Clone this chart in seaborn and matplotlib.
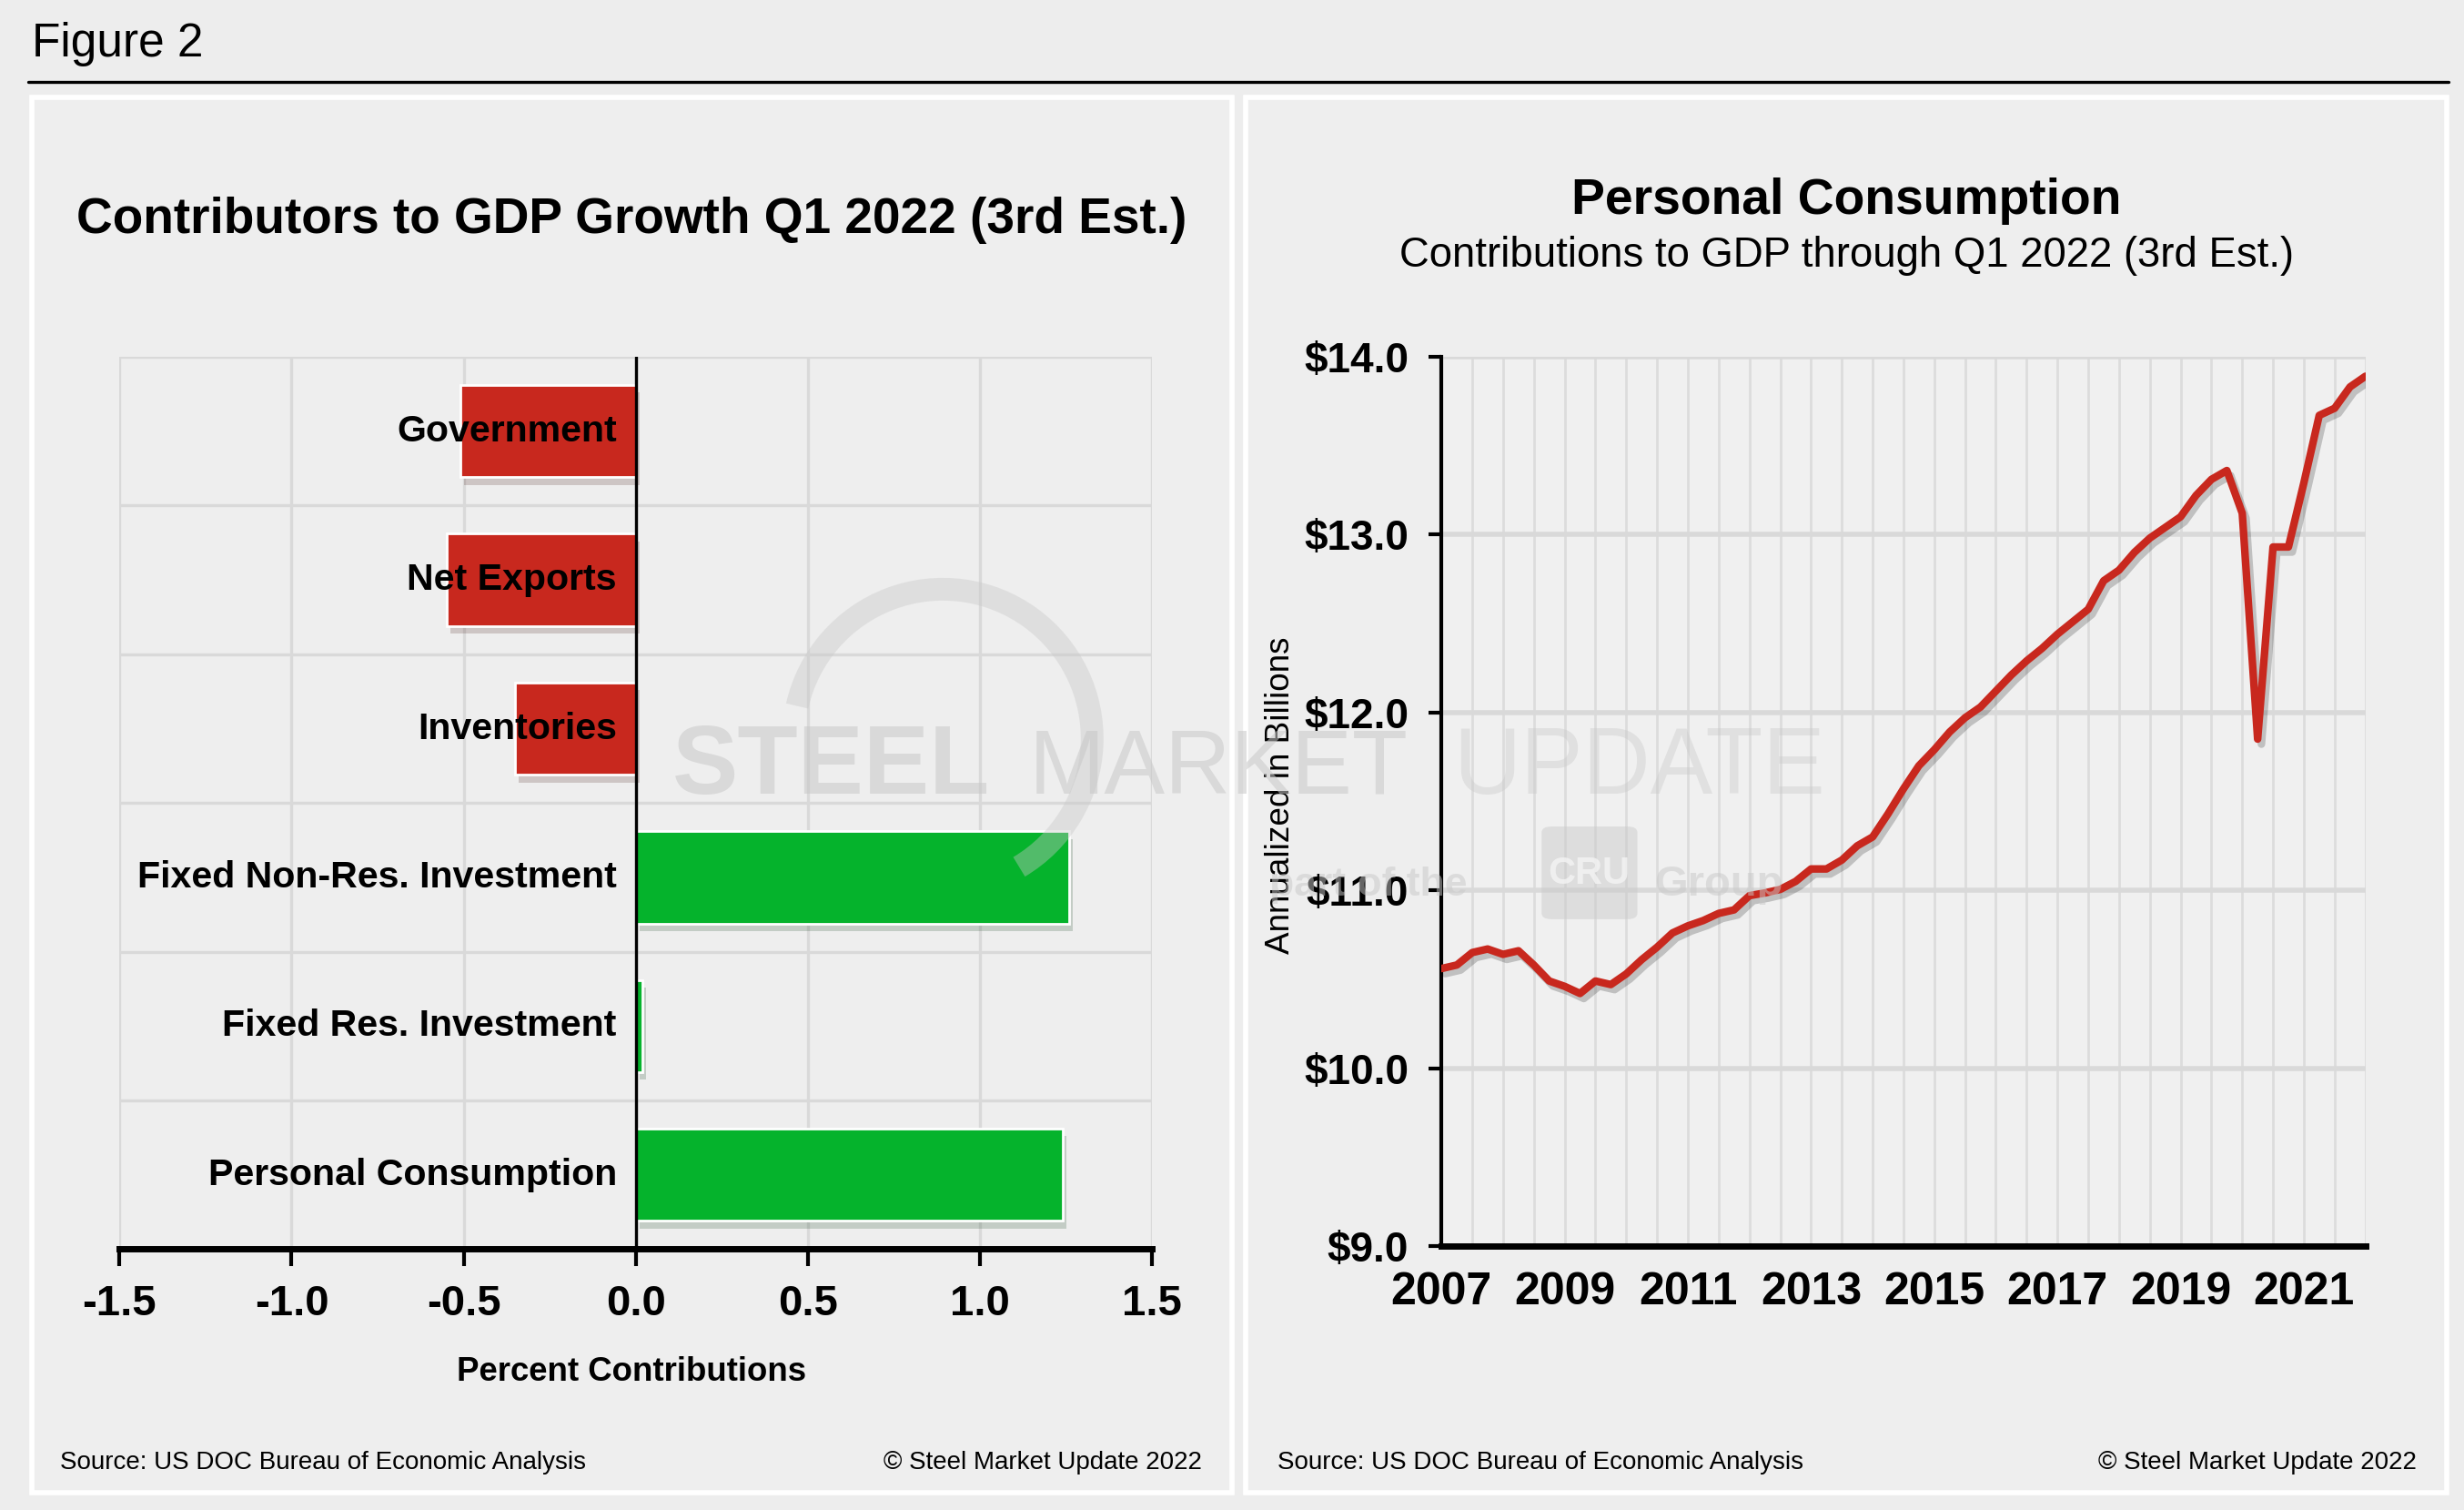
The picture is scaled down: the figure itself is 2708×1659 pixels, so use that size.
import numpy as np
import pandas as pd
import matplotlib
matplotlib.use("Agg")
import matplotlib.pyplot as plt
import matplotlib.patheffects as pe
from matplotlib.patches import Rectangle, FancyBboxPatch, Arc
from matplotlib.lines import Line2D
import seaborn as sns

# Left chart: contributions to GDP growth, Q1 2022 (3rd est.)
categories = ['Government', 'Net Exports', 'Inventories',
              'Fixed Non-Res. Investment', 'Fixed Res. Investment',
              'Personal Consumption']
contributions = [-0.51, -0.55, -0.35, 1.26, 0.02, 1.24]

# Right chart: personal consumption, quarterly 2007Q1 - 2022Q1 ($ trillions)
quarters = pd.period_range('2007Q1', '2022Q1', freq='Q')
consumption = [10.56, 10.58, 10.65, 10.67, 10.64, 10.66, 10.58, 10.49, 10.46, 10.42,
               10.49, 10.47, 10.53, 10.61, 10.68, 10.76, 10.80, 10.83, 10.87, 10.89,
               10.97, 10.985, 11.005, 11.05, 11.12, 11.12, 11.17, 11.25, 11.30, 11.43,
               11.57, 11.70, 11.79, 11.89, 11.97, 12.03, 12.12, 12.21, 12.29, 12.36,
               12.44, 12.51, 12.58, 12.74, 12.80, 12.90, 12.98, 13.04, 13.10, 13.22,
               13.31, 13.36, 13.12, 11.85, 12.93, 12.93, 13.29, 13.67, 13.71, 13.83,
               13.89]
year_ticks = [2007, 2009, 2011, 2013, 2015, 2017, 2019, 2021]
dollar_ticks = [9, 10, 11, 12, 13, 14]

RED = '#C8281E'
GREEN = '#05B32C'
BG = '#eeeeee'
GRID = '#d9d9d9'

sns.set_style('white')
plt.rcParams['font.family'] = ['Liberation Sans', 'DejaVu Sans']
plt.rcParams['axes.unicode_minus'] = False
for key in ('text.color', 'axes.labelcolor', 'xtick.color', 'ytick.color'):
    plt.rcParams[key] = 'black'

fig = plt.figure(figsize=(13.54, 8.295), dpi=200)
fig.patch.set_facecolor('#ededed')

# panel frames
for x0 in (0.01276, 0.5057):
    fig.add_artist(Rectangle((x0, 0.01145), 0.4873, 0.924, transform=fig.transFigure,
                             facecolor=BG, edgecolor='white', lw=2, zorder=-1))

fig.text(0.0128, 0.971, 'Figure 2', fontsize=18.5, va='center', ha='left')
fig.add_artist(Line2D([0.0115, 0.9936], [0.9459, 0.9459], color='black', lw=1.2,
                      transform=fig.transFigure))

# ---- left: bar chart
ax1 = fig.add_axes([0.0485, 0.1727, 0.419, 0.591])
ax1.set_facecolor(BG)
df = pd.DataFrame({'category': categories, 'value': contributions})
df['sign'] = np.where(df['value'] < 0, 'neg', 'pos')
sns.barplot(data=df, x='value', y='category', hue='sign',
            palette={'neg': RED, 'pos': GREEN}, dodge=False, legend=False,
            width=0.62, saturation=1, ax=ax1, zorder=3)
for p in ax1.patches:
    p.set_path_effects([pe.SimplePatchShadow(offset=(1.5, -3), alpha=0.18), pe.Normal()])

ax1.set_xlim(-1.5, 1.5)
ax1.set_ylim(len(categories) - 0.5, -0.5)
ax1.set_xticks(np.arange(-1.5, 1.51, 0.5))
ax1.set_xticklabels([f'{v:.1f}' for v in np.arange(-1.5, 1.51, 0.5)],
                    fontsize=17, fontweight='bold')
ax1.set_yticks(np.arange(-0.5, len(categories), 1), minor=True)
ax1.set_yticks([])
ax1.grid(axis='x', which='major', color=GRID, lw=1.2, zorder=0)
ax1.grid(axis='y', which='minor', color=GRID, lw=1.2, zorder=0)
ax1.tick_params(axis='y', which='both', length=0)
ax1.tick_params(axis='x', direction='out', length=7, width=1.5, pad=7, bottom=True,
                color='black')
ax1.axvline(0, color='black', lw=1.2, zorder=4)
for s in ('top', 'left', 'right'):
    ax1.spines[s].set_visible(False)
ax1.spines['bottom'].set_color('black')
ax1.spines['bottom'].set_linewidth(2.5)
ax1.set_xlabel('')
ax1.set_ylabel('')
for i, name in enumerate(categories):
    ax1.text(-0.055, i, name, ha='right', va='center', fontsize=14.8,
             fontweight='bold', zorder=5)

fig.text(0.2564, 0.8543, 'Contributors to GDP Growth Q1 2022 (3rd Est.)',
         ha='center', va='center', fontsize=19.8, fontweight='bold')
fig.text(0.2564, 0.0916, 'Percent Contributions', ha='center', va='center',
         fontsize=13.2, fontweight='bold')

# ---- right: line chart
ax2 = fig.add_axes([0.585, 0.1748, 0.375, 0.589])
ax2.set_facecolor('#f0f0f0')
xq = quarters.year + (quarters.quarter - 1) / 4
line_df = pd.DataFrame({'t': xq, 'pce': consumption})
sns.lineplot(data=line_df, x='t', y='pce', color=RED, lw=3, ax=ax2, zorder=3)
for ln in ax2.lines:
    ln.set_path_effects([pe.SimpleLineShadow(offset=(1.5, -2), alpha=0.2), pe.Normal()])
ax2.set_xlim(2007, 2022)
ax2.set_ylim(9, 14)
ax2.set_xticks(year_ticks)
ax2.set_xticklabels([str(y) for y in year_ticks], fontsize=18, fontweight='bold')
ax2.set_xticks(np.arange(2007, 2022.01, 0.5), minor=True)
ax2.set_yticks(dollar_ticks)
ax2.set_yticklabels([f'${v:.1f}' for v in dollar_ticks], fontsize=16.5, fontweight='bold')
ax2.grid(axis='x', which='both', color='#dcdcdc', lw=1.0, zorder=0)
ax2.grid(axis='y', which='major', color=GRID, lw=2.0, zorder=0)
ax2.tick_params(axis='x', which='both', length=0, pad=10)
ax2.tick_params(axis='y', direction='out', length=5, width=1.5, pad=8, left=True,
                color='black')
for s in ('top', 'right'):
    ax2.spines[s].set_visible(False)
for s in ('left', 'bottom'):
    ax2.spines[s].set_color('black')
ax2.spines['left'].set_linewidth(1.5)
ax2.spines['bottom'].set_linewidth(2.5)
ax2.set_xlabel('')
ax2.set_ylabel('')

fig.text(0.7494, 0.8668, 'Personal Consumption', ha='center', va='center',
         fontsize=19.9, fontweight='bold')
fig.text(0.7494, 0.8304, 'Contributions to GDP through Q1 2022 (3rd Est.)',
         ha='center', va='center', fontsize=16.4)
fig.text(0.5198, 0.4735, 'Annualized in Billions', rotation=90, ha='center',
         va='center', fontsize=13.3)

# footers
for xl, xr in ((0.0242, 0.4879), (0.5185, 0.9809)):
    fig.text(xl, 0.0312, 'Source: US DOC Bureau of Economic Analysis', fontsize=10,
             ha='left', va='center')
    fig.text(xr, 0.0312, '\u00a9 Steel Market Update 2022', fontsize=10,
             ha='right', va='center')

# watermark
wm = '#c8c8c8'
fig.add_artist(Arc((600 / 1568, 1 - 470 / 961), 190 / 1568, 190 / 961,
                   theta1=-70, theta2=160, transform=fig.transFigure,
                   color=wm, lw=9, alpha=0.4))
fig.text(428 / 1568, 1 - 505 / 961, 'STEEL', fontsize=39, fontweight='bold',
         color=wm, alpha=0.55, ha='left', va='baseline')
fig.text(655 / 1568, 1 - 505 / 961, 'MARKET', fontsize=36, color=wm, alpha=0.55,
         ha='left', va='baseline')
fig.text(925 / 1568, 1 - 505 / 961, 'UPDATE', fontsize=37, color=wm, alpha=0.4,
         ha='left', va='baseline')
fig.text(808 / 1568, 1 - 570 / 961, 'part of the', fontsize=16, fontweight='bold',
         color=wm, alpha=0.5, ha='left', va='baseline')
fig.add_artist(FancyBboxPatch((981 / 1568, 1 - 585 / 961), 61 / 1568, 59 / 961,
                              boxstyle='round,pad=0,rounding_size=0.004',
                              transform=fig.transFigure, facecolor=wm,
                              edgecolor='none', alpha=0.45))
fig.text(1011 / 1568, 1 - 556 / 961, 'CRU', fontsize=15, fontweight='bold',
         color='#f4f4f4', alpha=0.8, ha='center', va='center')
fig.text(1053 / 1568, 1 - 570 / 961, 'Group', fontsize=17, fontweight='bold',
         color=wm, alpha=0.5, ha='left', va='baseline')

fig.savefig('out.png', dpi=200, facecolor=fig.get_facecolor())
